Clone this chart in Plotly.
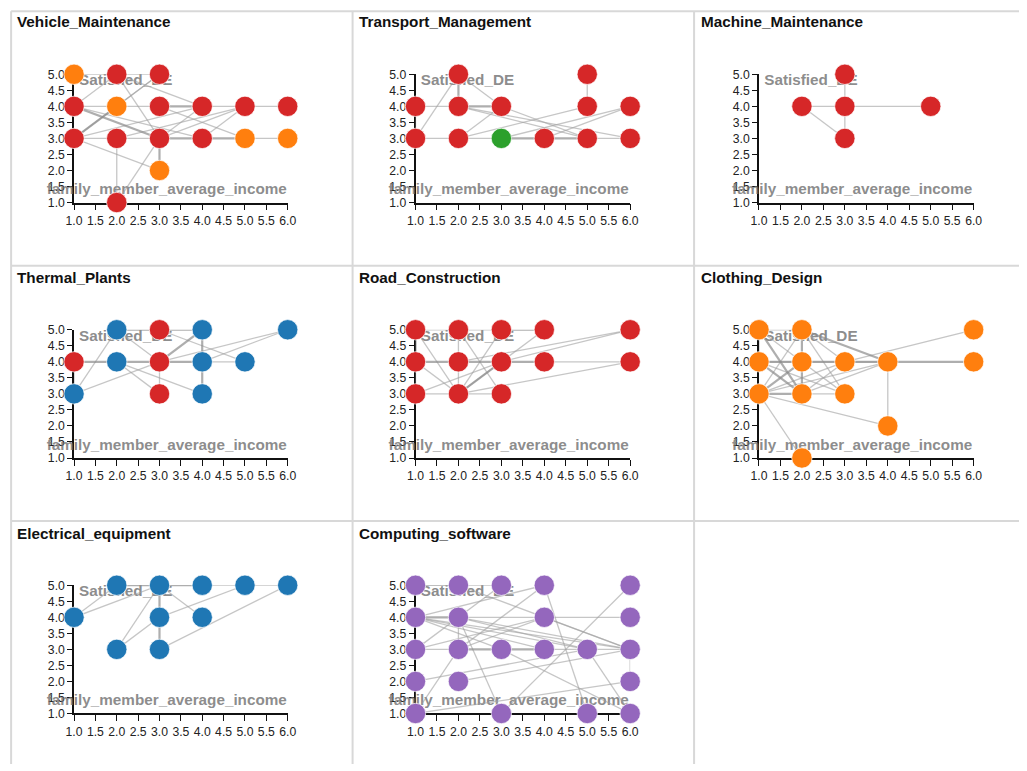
import plotly.graph_objects as go

# The photographed page shows the body's 8px margin and is slightly scaled down;
# compensate so that the picture lines up with the target pixel positions.
OFF = 8
SX, SY = 0.984, 0.980
W = round(1027 / SX) - 2 * OFF
H = round(771 / SY) - 2 * OFF
K = 2 / (SX + SY)  # size compensation for fonts / markers

COLORS = {"red": "#d62728", "orange": "#ff7f0e", "green": "#2ca02c",
          "blue": "#1f77b4", "purple": "#9467bd"}

panel_titles = ["Vehicle_Maintenance", "Transport_Management", "Machine_Maintenance",
                "Thermal_Plants", "Road_Construction", "Clothing_Design",
                "Electrical_equipment", "Computing_software"]

x_label = "family_member_average_income"
y_label = "Satisfied_DE"
tick_vals = [1.0, 1.5, 2.0, 2.5, 3.0, 3.5, 4.0, 4.5, 5.0, 5.5, 6.0]

# nodes: (income, satisfied, colour group)
vehicle_nodes = [(1, 5, "orange"), (2, 5, "red"), (3, 5, "red"),
                 (1, 4, "red"), (2, 4, "orange"), (3, 4, "red"), (4, 4, "red"), (5, 4, "red"), (6, 4, "red"),
                 (1, 3, "red"), (2, 3, "red"), (3, 3, "red"), (4, 3, "red"), (5, 3, "orange"), (6, 3, "orange"),
                 (3, 2, "orange"), (2, 1, "red")]
vehicle_edges = [(1, 5, 3, 5, 1), (2, 5, 3, 3, 1), (2, 5, 4, 4, 1), (3, 5, 2, 4, 1), (3, 5, 1, 3, 1),
                 (1, 4, 2, 4, 1), (2, 4, 3, 4, 1), (3, 4, 4, 4, 2), (4, 4, 5, 4, 1), (5, 4, 6, 4, 1),
                 (1, 4, 3, 3, 2), (1, 4, 4, 3, 1), (1, 4, 2, 5, 1), (1, 3, 2, 4, 2), (1, 3, 2, 3, 1),
                 (2, 3, 3, 3, 1), (1, 3, 3, 2, 1), (2, 3, 2, 1, 1), (2, 1, 3, 3, 1), (3, 3, 3, 2, 2),
                 (3, 3, 4, 3, 2), (4, 3, 5, 3, 2), (5, 3, 6, 3, 1), (3, 3, 5, 4, 1), (2, 3, 5, 4, 1),
                 (4, 3, 5, 4, 1), (3, 3, 4, 4, 1), (1, 3, 4, 4, 1), (3, 4, 5, 3, 1)]

transport_nodes = [(2, 5, "red"), (5, 5, "red"),
                   (1, 4, "red"), (2, 4, "red"), (3, 4, "red"), (5, 4, "red"), (6, 4, "red"),
                   (1, 3, "red"), (2, 3, "red"), (3, 3, "green"), (4, 3, "red"), (5, 3, "red"), (6, 3, "red")]
transport_edges = [(1, 3, 2, 5, 1), (1, 4, 1, 3, 1), (1, 4, 2, 4, 1), (2, 5, 2, 4, 2), (2, 5, 3, 4, 1),
                   (2, 4, 3, 4, 2), (2, 4, 5, 3, 1), (2, 4, 6, 3, 1), (1, 3, 2, 3, 1), (2, 3, 3, 3, 1),
                   (3, 3, 4, 3, 2), (4, 3, 5, 3, 2), (5, 3, 6, 3, 1), (2, 3, 3, 4, 1), (2, 3, 5, 4, 1),
                   (3, 3, 6, 4, 1), (4, 3, 6, 4, 1), (5, 5, 5, 4, 1), (3, 4, 5, 3, 1)]

machine_nodes = [(3, 5, "red"), (2, 4, "red"), (3, 4, "red"), (5, 4, "red"), (3, 3, "red")]
machine_edges = [(3, 5, 3, 4, 1), (2, 4, 3, 4, 1), (3, 4, 5, 4, 1), (2, 4, 3, 3, 1), (3, 4, 3, 3, 1)]

thermal_nodes = [(2, 5, "blue"), (3, 5, "red"), (4, 5, "blue"), (6, 5, "blue"),
                 (1, 4, "red"), (2, 4, "blue"), (3, 4, "red"), (4, 4, "blue"), (5, 4, "blue"),
                 (1, 3, "blue"), (3, 3, "red"), (4, 3, "blue")]
thermal_edges = [(1, 3, 2, 5, 1), (1, 3, 3, 4, 1), (1, 4, 2, 4, 2), (2, 4, 3, 4, 2), (3, 4, 4, 4, 2),
                 (4, 4, 5, 4, 1), (2, 5, 3, 5, 2), (3, 5, 4, 5, 2), (2, 5, 3, 4, 1), (3, 5, 5, 4, 1),
                 (3, 4, 4, 5, 2), (2, 4, 3, 3, 1), (2, 4, 4, 3, 1), (3, 4, 3, 3, 1), (4, 5, 4, 4, 2),
                 (4, 4, 4, 3, 2), (3, 4, 6, 5, 1), (4, 4, 6, 5, 1), (1, 4, 1, 3, 1)]

road_nodes = [(1, 5, "red"), (2, 5, "red"), (3, 5, "red"), (4, 5, "red"), (6, 5, "red"),
              (1, 4, "red"), (2, 4, "red"), (3, 4, "red"), (4, 4, "red"), (6, 4, "red"),
              (1, 3, "red"), (2, 3, "red"), (3, 3, "red")]
road_edges = [(1, 5, 1, 4, 2), (1, 4, 1, 3, 1), (1, 5, 2, 3, 1), (1, 4, 2, 3, 1), (2, 5, 2, 4, 1),
              (2, 4, 2, 3, 1), (2, 5, 3, 3, 1), (1, 5, 2, 5, 1), (2, 5, 3, 5, 1), (3, 5, 4, 5, 2),
              (3, 5, 2, 3, 1), (4, 5, 2, 3, 1), (1, 4, 2, 4, 2), (2, 4, 3, 4, 2), (3, 4, 4, 4, 2),
              (4, 4, 6, 4, 1), (1, 3, 2, 3, 1), (2, 3, 3, 3, 1), (1, 3, 3, 4, 1), (2, 3, 3, 4, 2),
              (2, 3, 6, 4, 1), (3, 4, 6, 5, 1), (2, 4, 6, 5, 1)]

clothing_nodes = [(1, 5, "orange"), (2, 5, "orange"), (6, 5, "orange"),
                  (1, 4, "orange"), (2, 4, "orange"), (3, 4, "orange"), (4, 4, "orange"), (6, 4, "orange"),
                  (1, 3, "orange"), (2, 3, "orange"), (3, 3, "orange"),
                  (4, 2, "orange"), (2, 1, "orange")]
clothing_edges = [(1, 5, 1, 4, 1), (1, 5, 2, 3, 2), (1, 5, 3, 3, 1), (1, 5, 2, 5, 1), (2, 5, 2, 4, 2),
                  (2, 4, 2, 3, 2), (2, 5, 4, 4, 2), (2, 5, 3, 4, 1), (2, 5, 1, 3, 1), (2, 5, 3, 3, 1),
                  (1, 4, 2, 4, 2), (2, 4, 3, 4, 2), (3, 4, 4, 4, 2), (4, 4, 6, 4, 2), (1, 4, 2, 3, 2),
                  (1, 4, 3, 3, 1), (1, 3, 2, 4, 2), (1, 3, 3, 4, 1), (1, 3, 4, 4, 1), (1, 3, 2, 3, 2),
                  (2, 3, 3, 3, 1), (1, 3, 4, 2, 1), (1, 3, 2, 1, 1), (2, 3, 4, 4, 1), (2, 3, 3, 4, 1),
                  (3, 4, 6, 5, 1), (4, 4, 4, 2, 1), (1, 4, 4, 4, 1)]

electrical_nodes = [(2, 5, "blue"), (3, 5, "blue"), (4, 5, "blue"), (5, 5, "blue"), (6, 5, "blue"),
                    (1, 4, "blue"), (3, 4, "blue"), (4, 4, "blue"), (2, 3, "blue"), (3, 3, "blue")]
electrical_edges = [(1, 4, 2, 5, 1), (1, 4, 3, 5, 1), (2, 5, 3, 5, 2), (3, 5, 4, 5, 2), (4, 5, 5, 5, 1),
                    (5, 5, 6, 5, 1), (2, 5, 4, 5, 1), (3, 5, 3, 4, 2), (3, 4, 3, 3, 2), (3, 5, 4, 4, 1),
                    (2, 3, 3, 5, 1), (2, 3, 3, 4, 1), (3, 4, 5, 5, 1), (3, 3, 6, 5, 1)]

computing_nodes = [(1, 5, "purple"), (2, 5, "purple"), (3, 5, "purple"), (4, 5, "purple"), (6, 5, "purple"),
                   (1, 4, "purple"), (2, 4, "purple"), (4, 4, "purple"), (6, 4, "purple"),
                   (1, 3, "purple"), (2, 3, "purple"), (3, 3, "purple"), (4, 3, "purple"), (5, 3, "purple"), (6, 3, "purple"),
                   (1, 2, "purple"), (2, 2, "purple"), (6, 2, "purple"),
                   (1, 1, "purple"), (3, 1, "purple"), (5, 1, "purple"), (6, 1, "purple")]
computing_edges = [(1, 5, 2, 5, 1), (1, 5, 3, 5, 1), (1, 4, 2, 4, 2), (1, 4, 4, 5, 1), (1, 4, 6, 3, 1),
                   (1, 4, 5, 3, 1), (1, 4, 4, 3, 1), (1, 4, 3, 3, 1), (2, 4, 4, 4, 1), (4, 4, 6, 4, 1),
                   (2, 4, 6, 3, 1), (2, 4, 3, 1, 1), (2, 4, 2, 3, 1), (2, 5, 6, 3, 1), (1, 3, 2, 3, 1),
                   (2, 3, 3, 3, 2), (3, 3, 4, 3, 2), (4, 3, 5, 3, 1), (1, 3, 3, 5, 1), (2, 3, 4, 5, 1),
                   (2, 3, 4, 4, 1), (4, 5, 5, 1, 1), (1, 2, 5, 3, 1), (2, 2, 6, 3, 1), (1, 1, 2, 3, 1),
                   (1, 1, 6, 2, 1), (3, 1, 6, 5, 1), (3, 3, 6, 1, 1), (5, 3, 6, 1, 1), (6, 3, 6, 2, 1),
                   (4, 4, 6, 3, 1), (5, 3, 6, 3, 1), (1, 3, 4, 4, 1), (1, 1, 1, 2, 1), (2, 4, 5, 3, 1)]

panel_nodes = [vehicle_nodes, transport_nodes, machine_nodes, thermal_nodes, road_nodes,
               clothing_nodes, electrical_nodes, computing_nodes]
panel_edges = [vehicle_edges, transport_edges, machine_edges, thermal_edges, road_edges,
               clothing_edges, electrical_edges, computing_edges]

# ---- layout geometry (target picture pixels) ----
col_x = [(73, 287), (415, 630), (759, 974)]
row_y = [(75, 203), (330, 458), (585, 713)]
col_title_x = [14, 356, 699]
row_title_y = [22, 278, 533]
FONT = "Liberation Sans, Arial, sans-serif"


def fx(px):
    return (px / SX - OFF) / W


def fy(py):
    return 1 - (py / SY - OFF) / H


fig = go.Figure()
layout = dict(width=W, height=H, margin=dict(l=0, r=0, t=0, b=0),
              paper_bgcolor="white", plot_bgcolor="rgba(0,0,0,0)",
              showlegend=False, font=dict(family=FONT))
annotations = []
shapes = []

for i, title in enumerate(panel_titles):
    r, c = divmod(i, 3)
    sfx = "" if i == 0 else str(i + 1)
    xa, ya = "x" + sfx, "y" + sfx
    x0, x1 = col_x[c]
    ytop, ybot = row_y[r]
    axis_common = dict(showgrid=False, zeroline=False, showline=True, linecolor="#111",
                       linewidth=1.5, ticks="outside", ticklen=6, tickwidth=1.3, tickcolor="#111",
                       tickvals=tick_vals, tickformat=".1f",
                       tickfont=dict(size=12 * K, color="#222", family=FONT), layer="below traces",
                       fixedrange=True)
    layout["xaxis" + sfx] = dict(axis_common, domain=[fx(x0), fx(x1)], range=[1, 6], anchor=ya)
    layout["yaxis" + sfx] = dict(axis_common, domain=[fy(ybot), fy(ytop)], range=[1, 5],
                                 anchor=xa, tickvals=tick_vals[:9], ticklen=5)

    # axis labels (drawn beneath the nodes)
    fig.add_trace(go.Scatter(x=[2.21, 3.17], y=[4.78, 1.37], mode="text",
                             text=[y_label, x_label], textposition="middle center",
                             textfont=dict(size=15 * K, color="rgba(110,110,110,0.8)", family=FONT,
                                           weight="bold"),
                             cliponaxis=False, hoverinfo="skip", xaxis=xa, yaxis=ya))

    # edges
    for wsel, width, col in [(1, 1.3, "rgba(160,160,160,0.6)"), (2, 2.2, "rgba(140,140,140,0.7)")]:
        ex, ey = [], []
        for (a, b, cc, d, w) in panel_edges[i]:
            if w == wsel:
                ex += [a, cc, None]
                ey += [b, d, None]
        if ex:
            fig.add_trace(go.Scatter(x=ex, y=ey, mode="lines", line=dict(color=col, width=width),
                                     hoverinfo="skip", cliponaxis=False, xaxis=xa, yaxis=ya))
    # nodes
    nodes = panel_nodes[i]
    fig.add_trace(go.Scatter(x=[n[0] for n in nodes], y=[n[1] for n in nodes], mode="markers",
                             marker=dict(size=20 * K, color=[COLORS[n[2]] for n in nodes],
                                         line=dict(width=1, color="rgba(255,255,255,0.7)")),
                             cliponaxis=False, xaxis=xa, yaxis=ya))

    annotations.append(dict(text=title, x=fx(col_title_x[c]), y=fy(row_title_y[r]),
                            xref="paper", yref="paper",
                            xanchor="left", yanchor="middle", showarrow=False,
                            font=dict(size=15 * K, color="#111", family=FONT, weight="bold")))

# panel borders
border = dict(type="line", xref="paper", yref="paper", line=dict(color="#d8d8d8", width=2), layer="below")
for py in [12, 266, 521]:
    shapes.append(dict(border, x0=fx(10), x1=1, y0=fy(py), y1=fy(py)))
for px in [10, 352, 694]:
    shapes.append(dict(border, x0=fx(px), x1=fx(px), y0=fy(12), y1=0))

layout["annotations"] = annotations
layout["shapes"] = shapes
fig.update_layout(**layout)
fig.write_html("out.html")
